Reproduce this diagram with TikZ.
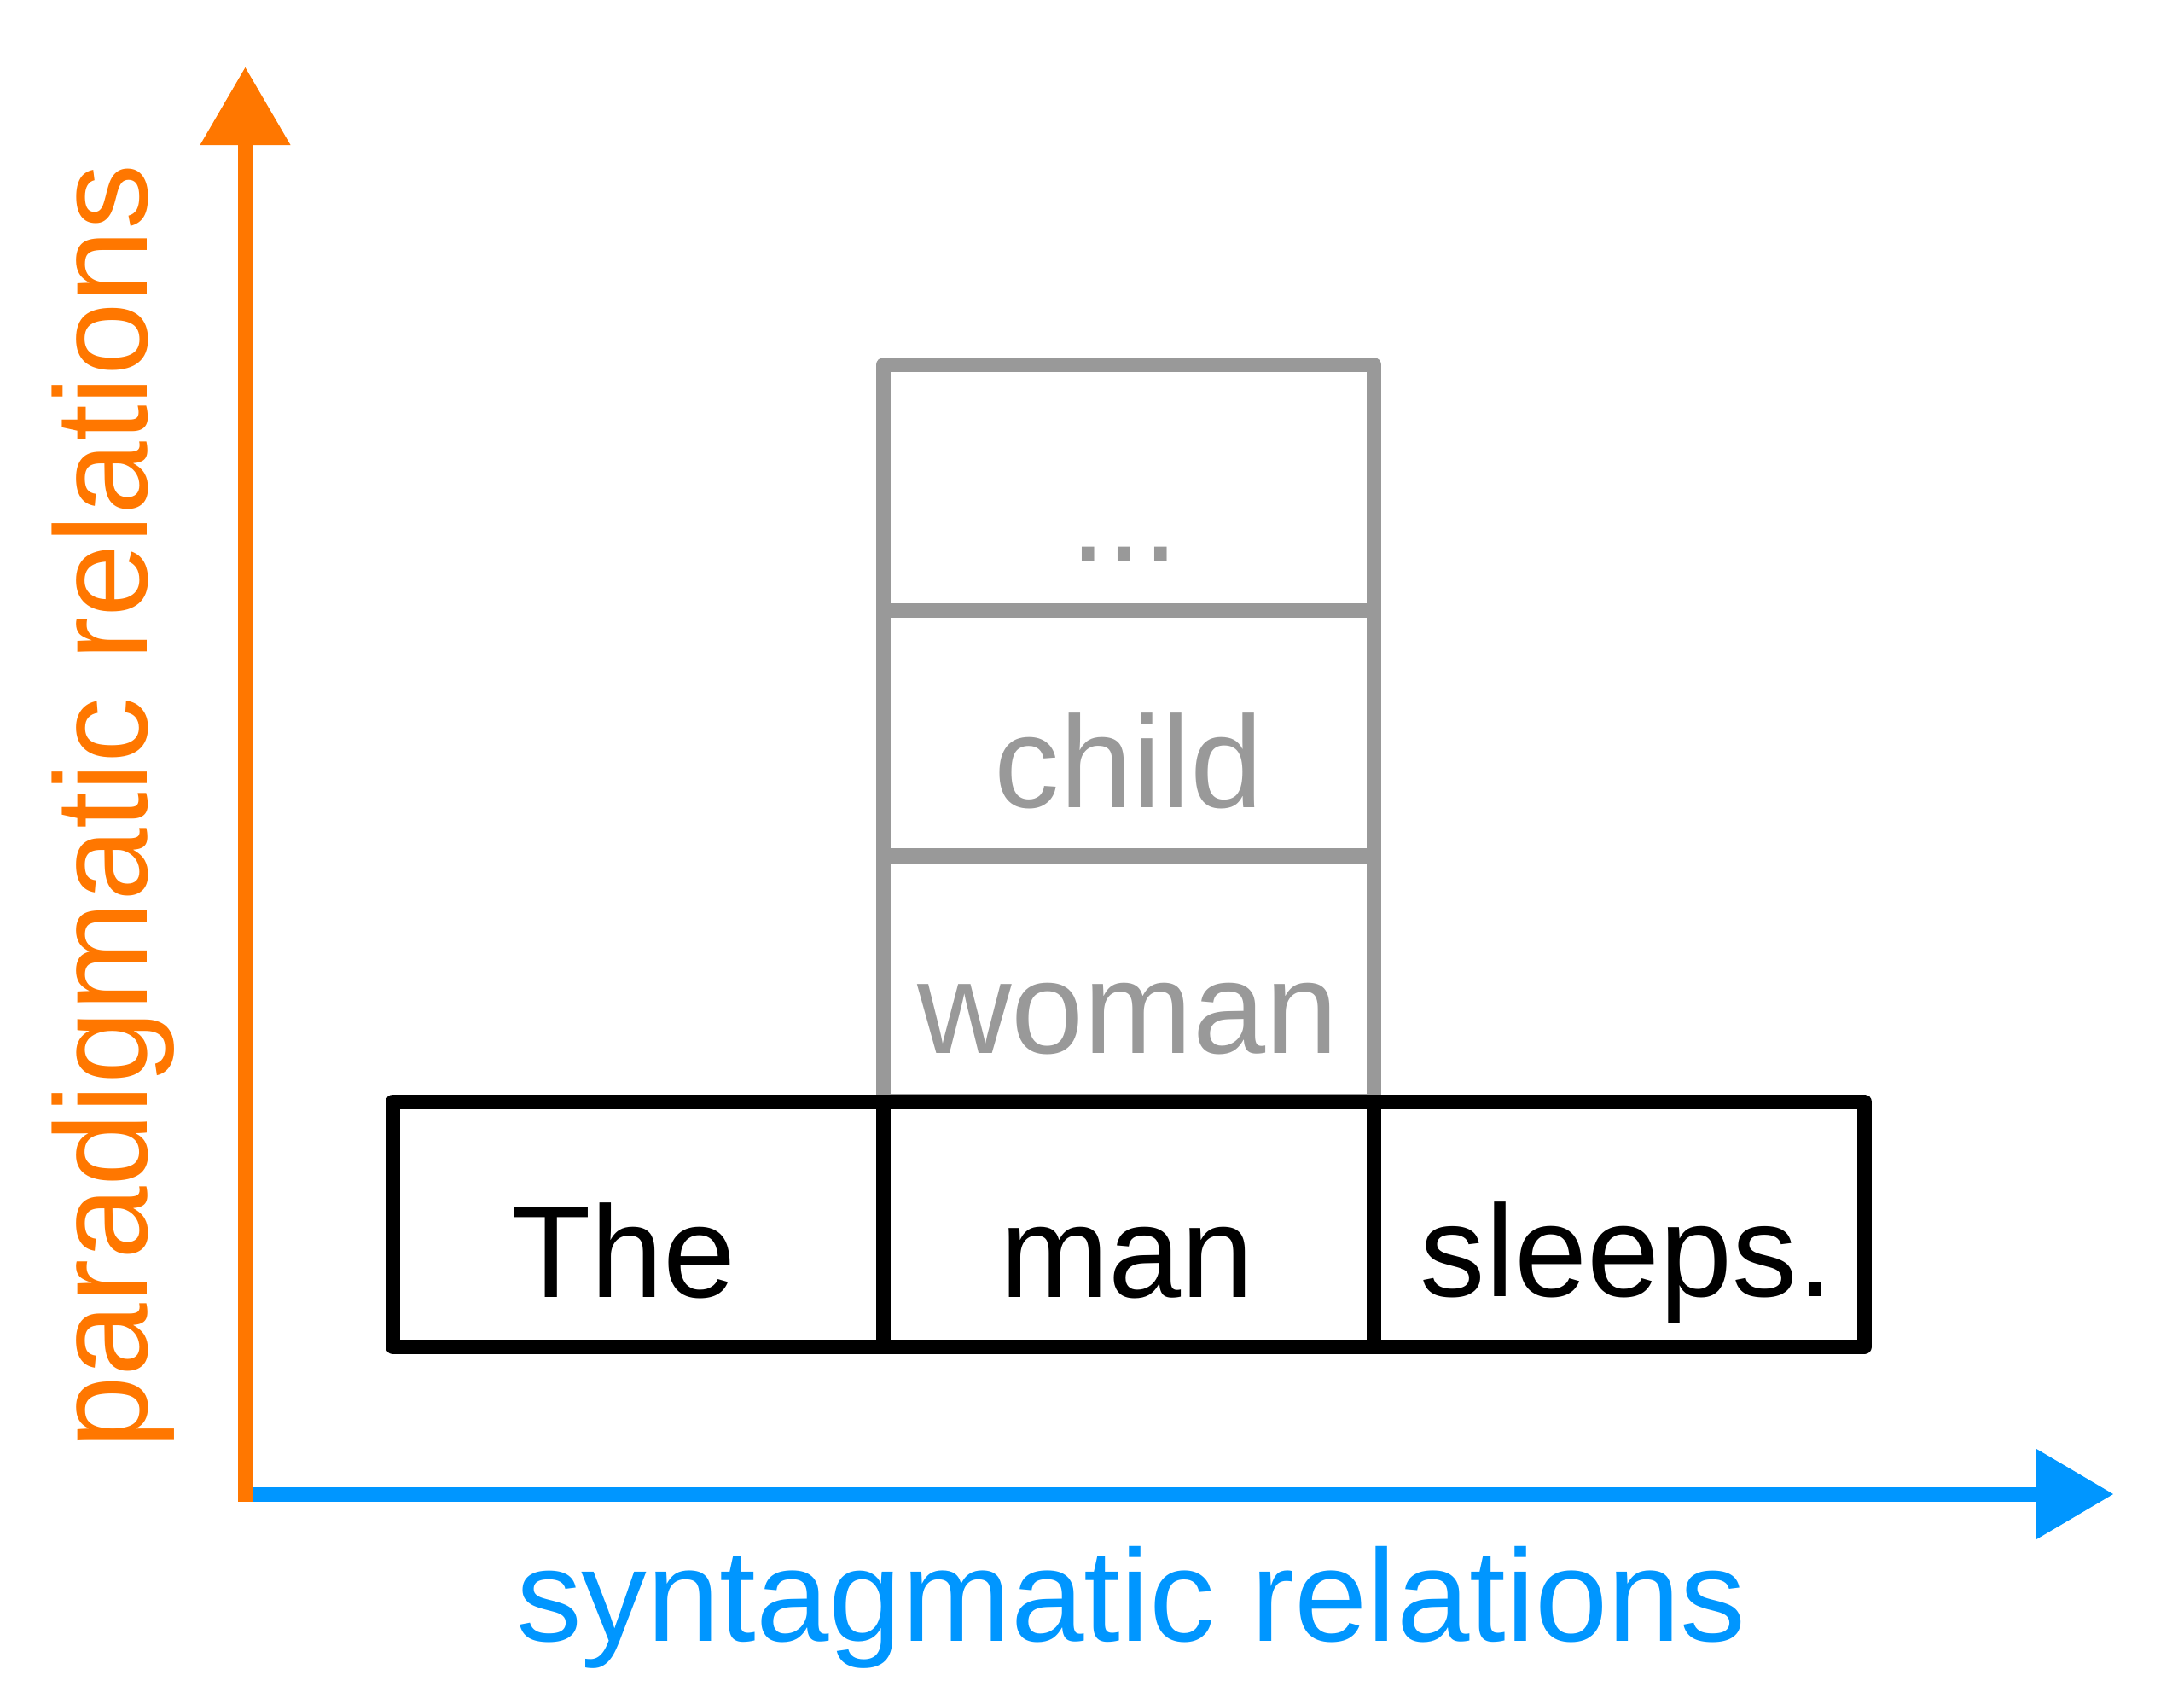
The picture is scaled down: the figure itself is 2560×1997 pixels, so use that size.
\documentclass[tikz,border=0pt]{standalone}
\usepackage{fontspec}
\setmainfont{Liberation Sans}
\definecolor{axorange}{RGB}{255,119,0}
\definecolor{axblue}{RGB}{0,150,255}
\definecolor{cellgray}{RGB}{153,153,153}
\begin{document}
\begin{tikzpicture}[x=1pt,y=-1pt,
  bigtext/.style={inner sep=0pt,anchor=base,font=\fontsize{153}{160}\selectfont},
  syntext/.style={inner sep=0pt,anchor=base,font=\fontsize{153.5}{160}\selectfont},
  partext/.style={inner sep=0pt,anchor=base,font=\fontsize{154}{160}\selectfont},
  wordbox/.style={draw=black,line width=17pt,line join=round,minimum width=575pt,minimum height=287.5pt,inner sep=0pt},
  altbox/.style={draw=cellgray,line width=17pt,line join=round,minimum width=575pt,minimum height=287.5pt,inner sep=0pt},
  axisline/.style={line width=17pt}]
\useasboundingbox (0,0) rectangle (2560,1997);
% axes
\coordinate (xstart) at (279,1751);
\coordinate (xbase) at (2387,1751);
\coordinate (xtip) at (2477,1751);
\coordinate (ystart) at (287.5,1759.5);
\coordinate (ybase) at (287.5,170);
\coordinate (ytip) at (287.5,79);
\draw[axisline,axblue] (xstart) -- (xbase);
\fill[axblue] (xtip) -- ([yshift=-53pt]xbase) -- ([yshift=53pt]xbase) -- cycle;
\draw[axisline,axorange] (ystart) -- (ybase);
\fill[axorange] (ytip) -- ([xshift=-53pt]ybase) -- ([xshift=53pt]ybase) -- cycle;
% gray alternatives
\node[altbox] (cdots) at (1323,571.5) {};
\node[altbox] (cchild) at (1323,859) {};
\node[altbox] (cwoman) at (1323,1147) {};
% sentence
\node[wordbox] (bthe) at (748,1434.75) {};
\node[wordbox] (bman) at (1323,1434.75) {};
\node[wordbox] (bsleeps) at (1898,1434.75) {};
% texts
\node[bigtext,text=cellgray] (tdots) at (1318,657) {...};
\node[bigtext,text=cellgray] (tchild) at (1323,946) {child};
\node[bigtext,text=cellgray] (twoman) at (1322,1234) {woman};
\node[bigtext] (tthe) at (731,1520) {The};
\node[bigtext] (tman) at (1321,1520) {man};
\node[bigtext] (tsleeps) at (1907,1519) {sleeps.};
\node[syntext,text=axblue] (tsyn) at (1326,1923) {syntagmatic relations};
\node[partext,text=axorange,rotate=90] (tpar) at (172.7,945.5) {paradigmatic relations};
\end{tikzpicture}
\end{document}
